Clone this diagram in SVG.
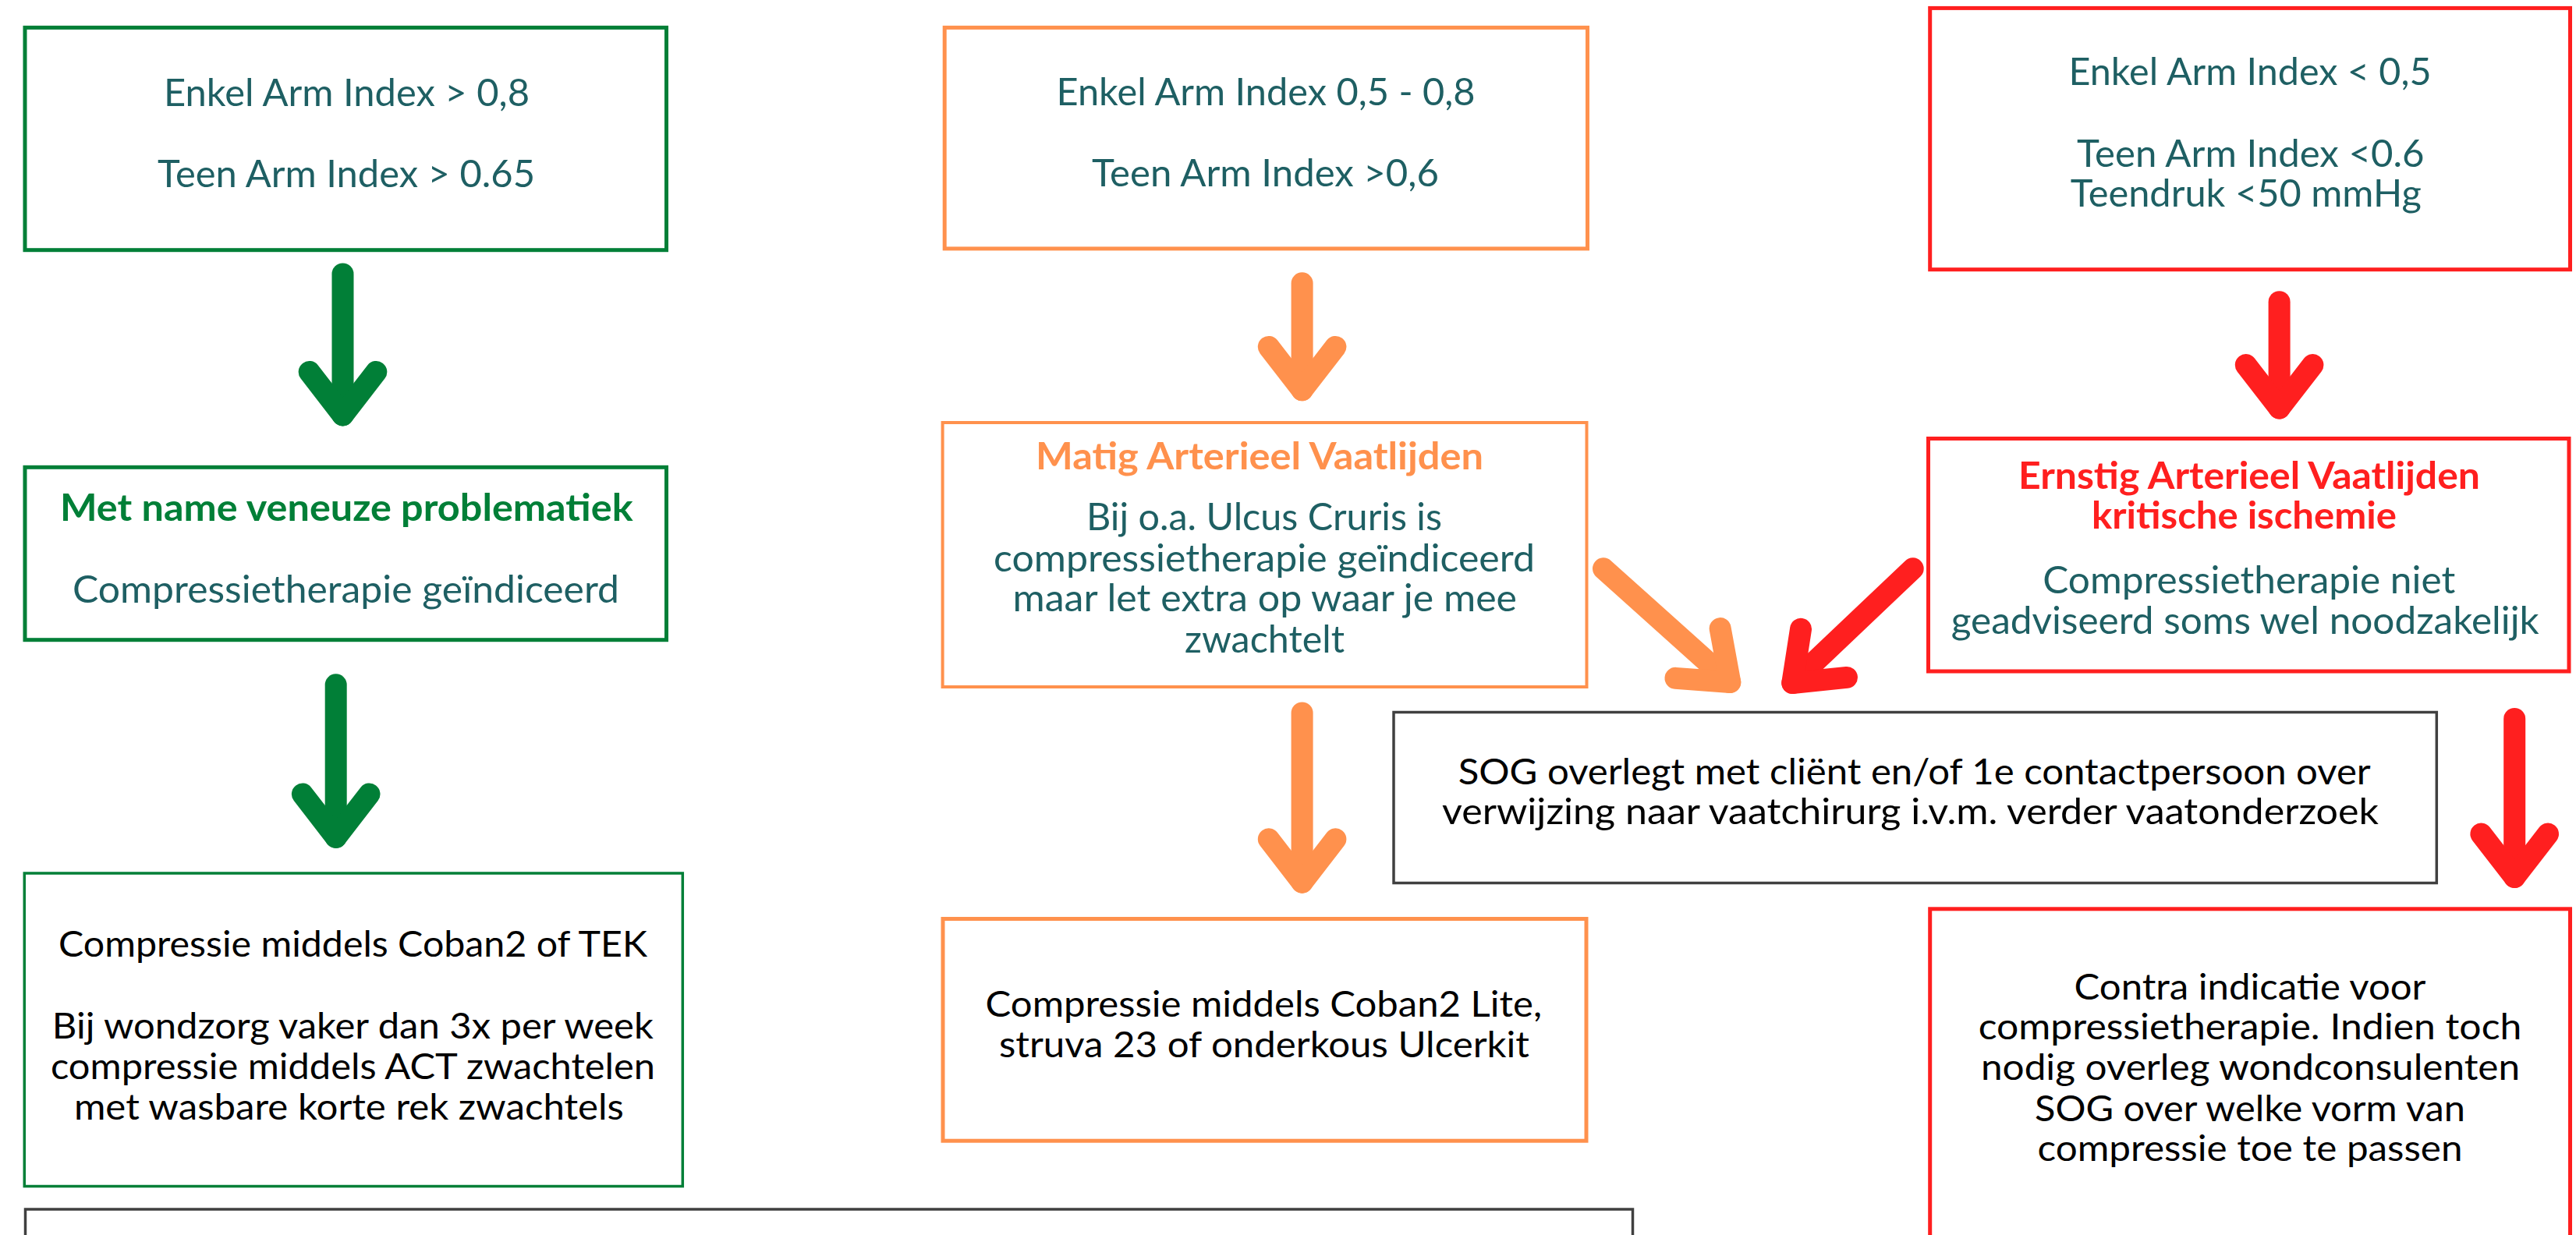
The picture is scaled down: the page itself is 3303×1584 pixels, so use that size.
<svg xmlns="http://www.w3.org/2000/svg" width="3303" height="1584" viewBox="0 0 3303 1584">
<style>
  .box{fill:#ffffff}
  .g{stroke:#017F37}
  .o{stroke:#FF914D}
  .r{stroke:#FF1F1F}
  .k{stroke:#404040}
  .w5{stroke-width:5}
  .w4{stroke-width:4}
  .w3{stroke-width:3.5}
  text{font-family:Lato,"Open Sans",sans-serif;font-size:48px;text-anchor:middle}
  .t{fill:#1E5F63}
  .b{fill:#000000;font-size:46px}
  .hg{fill:#017F37;font-weight:700}
  .ho{fill:#FF914D;font-weight:700}
  .hr{fill:#FF1F1F;font-weight:700}
  .arr{fill:none;stroke-width:28;stroke-linecap:round;stroke-linejoin:round}
  .ag{stroke:#017F37}
  .ao{stroke:#FF914D}
  .ar{stroke:#FF1F1F}
</style>
<defs>
  <path id="head" d="M-55.4,-42.8 L0,0 L-55.4,42.8"/>
</defs>
<rect width="3303" height="1584" fill="#ffffff"/>

<g id="connectors">
  <g class="arr ag">
    <path d="M439.5,351.5 V532.4"/>
    <use href="#head" transform="translate(439.5,532.4) rotate(90)"/>
    <path d="M430.7,878.3 V1073.9"/>
    <use href="#head" transform="translate(430.7,1073.9) rotate(90)"/>
  </g>
  <g class="arr ao">
    <path d="M1669.6,363.3 V500.3"/>
    <use href="#head" transform="translate(1669.6,500.3) rotate(90)"/>
    <path d="M1669.6,914.4 V1131.7"/>
    <use href="#head" transform="translate(1669.6,1131.7) rotate(90)"/>
    <path d="M2056,729.3 L2218.3,875"/>
    <use href="#head" transform="translate(2218.3,875) rotate(41.9)"/>
  </g>
  <g class="arr ar">
    <path d="M2922.6,387.2 V523.5"/>
    <use href="#head" transform="translate(2922.6,523.5) rotate(90)"/>
    <path d="M2452.7,729.3 L2298.3,876"/>
    <use href="#head" transform="translate(2298.3,876) rotate(136.5)"/>
    <path d="M3224.2,922 V1125"/>
    <use href="#head" transform="translate(3224.2,1125) rotate(90)"/>
  </g>
</g>

<g id="n-eai-green">
  <rect class="box g w5" x="32" y="35.4" width="822.5" height="285.3"/>
  <text class="t" x="444.5" y="136.4" textLength="469" lengthAdjust="spacingAndGlyphs">Enkel Arm Index &gt; 0,8</text>
  <text class="t" x="444" y="240" textLength="484" lengthAdjust="spacingAndGlyphs">Teen Arm Index &gt; 0.65</text>
</g>

<g id="n-veneus">
  <rect class="box g w5" x="32" y="599.3" width="822.5" height="221.4"/>
  <text class="hg" x="444.3" y="667.9" textLength="734.6" lengthAdjust="spacingAndGlyphs">Met name veneuze problematiek</text>
  <text class="t" x="443.5" y="772.5" textLength="701" lengthAdjust="spacingAndGlyphs">Compressietherapie geïndiceerd</text>
</g>

<g id="n-coban2">
  <rect class="box g w3" x="31.3" y="1120" width="844" height="401.5"/>
  <text class="b" x="452.5" y="1226.7" textLength="755" lengthAdjust="spacingAndGlyphs">Compressie middels Coban2 of TEK</text>
  <text class="b" x="452.3" y="1331.7" textLength="771" lengthAdjust="spacingAndGlyphs">Bij wondzorg vaker dan 3x per week</text>
  <text class="b" x="452.5" y="1384" textLength="775" lengthAdjust="spacingAndGlyphs">compressie middels ACT zwachtelen</text>
  <text class="b" x="447.4" y="1436" textLength="705" lengthAdjust="spacingAndGlyphs">met wasbare korte rek zwachtels</text>
</g>

<g id="n-eai-orange">
  <rect class="box o w5" x="1211.2" y="35.4" width="824.3" height="283.5"/>
  <text class="t" x="1623" y="135" textLength="537" lengthAdjust="spacingAndGlyphs">Enkel Arm Index 0,5 - 0,8</text>
  <text class="t" x="1622.5" y="238.6" textLength="445" lengthAdjust="spacingAndGlyphs">Teen Arm Index &gt;0,6</text>
</g>

<g id="n-matig">
  <rect class="box o w4" x="1208.6" y="542" width="825.9" height="339"/>
  <text class="ho" x="1615" y="602" textLength="574" lengthAdjust="spacingAndGlyphs">Matig Arterieel Vaatlijden</text>
  <text class="t" x="1621" y="679.6" textLength="456" lengthAdjust="spacingAndGlyphs">Bij o.a. Ulcus Cruris is</text>
  <text class="t" x="1621" y="732.5" textLength="694" lengthAdjust="spacingAndGlyphs">compressietherapie geïndiceerd</text>
  <text class="t" x="1621.8" y="784.3" textLength="646.5" lengthAdjust="spacingAndGlyphs">maar let extra op waar je mee</text>
  <text class="t" x="1621.5" y="836.8" textLength="205" lengthAdjust="spacingAndGlyphs">zwachtelt</text>
</g>

<g id="n-coban2-lite">
  <rect class="box o w5" x="1209" y="1178.5" width="825" height="284.7"/>
  <text class="b" x="1620.3" y="1304" textLength="713.5" lengthAdjust="spacingAndGlyphs">Compressie middels Coban2 Lite,</text>
  <text class="b" x="1621" y="1356" textLength="680" lengthAdjust="spacingAndGlyphs">struva 23 of onderkous Ulcerkit</text>
</g>

<g id="n-sog">
  <rect class="box k w3" x="1787" y="913.5" width="1337.3" height="219"/>
  <text class="b" x="2454.7" y="1006.4" textLength="1170" lengthAdjust="spacingAndGlyphs">SOG overlegt met cliënt en/of 1e contactpersoon over</text>
  <text class="b" x="2449.5" y="1057" textLength="1201" lengthAdjust="spacingAndGlyphs">verwijzing naar vaatchirurg i.v.m. verder vaatonderzoek</text>
</g>

<g id="n-eai-red">
  <rect class="box r w5" x="2474.7" y="10.4" width="820.8" height="335.3"/>
  <text class="t" x="2885" y="109" textLength="465" lengthAdjust="spacingAndGlyphs">Enkel Arm Index &lt; 0,5</text>
  <text class="t" x="2885.8" y="213.6" textLength="445.5" lengthAdjust="spacingAndGlyphs">Teen Arm Index &lt;0.6</text>
  <text class="t" x="2879.8" y="265" textLength="450" lengthAdjust="spacingAndGlyphs">Teendruk &lt;50 mmHg</text>
</g>

<g id="n-ernstig">
  <rect class="box r w5" x="2472.5" y="562.5" width="821.5" height="298.5"/>
  <text class="hr" x="2884" y="627" textLength="592" lengthAdjust="spacingAndGlyphs">Ernstig Arterieel Vaatlijden</text>
  <text class="hr" x="2877.5" y="677.9" textLength="391" lengthAdjust="spacingAndGlyphs">kritische ischemie</text>
  <text class="t" x="2883.7" y="761" textLength="529" lengthAdjust="spacingAndGlyphs">Compressietherapie niet</text>
  <text class="t" x="2878.7" y="812.9" textLength="754" lengthAdjust="spacingAndGlyphs">geadviseerd soms wel noodzakelijk</text>
</g>

<g id="n-contra">
  <rect class="box r w5" x="2474.7" y="1165.8" width="820.8" height="560"/>
  <text class="b" x="2885" y="1281.7" textLength="451" lengthAdjust="spacingAndGlyphs">Contra indicatie voor</text>
  <text class="b" x="2885" y="1333.3" textLength="696.6" lengthAdjust="spacingAndGlyphs">compressietherapie. Indien toch</text>
  <text class="b" x="2885.5" y="1385" textLength="691" lengthAdjust="spacingAndGlyphs">nodig overleg wondconsulenten</text>
  <text class="b" x="2885" y="1437.7" textLength="552" lengthAdjust="spacingAndGlyphs">SOG over welke vorm van</text>
  <text class="b" x="2885" y="1489.3" textLength="545" lengthAdjust="spacingAndGlyphs">compressie toe te passen</text>
</g>

<g id="n-bottom">
  <rect class="box k w3" x="32.5" y="1551" width="2061" height="200"/>
</g>
</svg>
